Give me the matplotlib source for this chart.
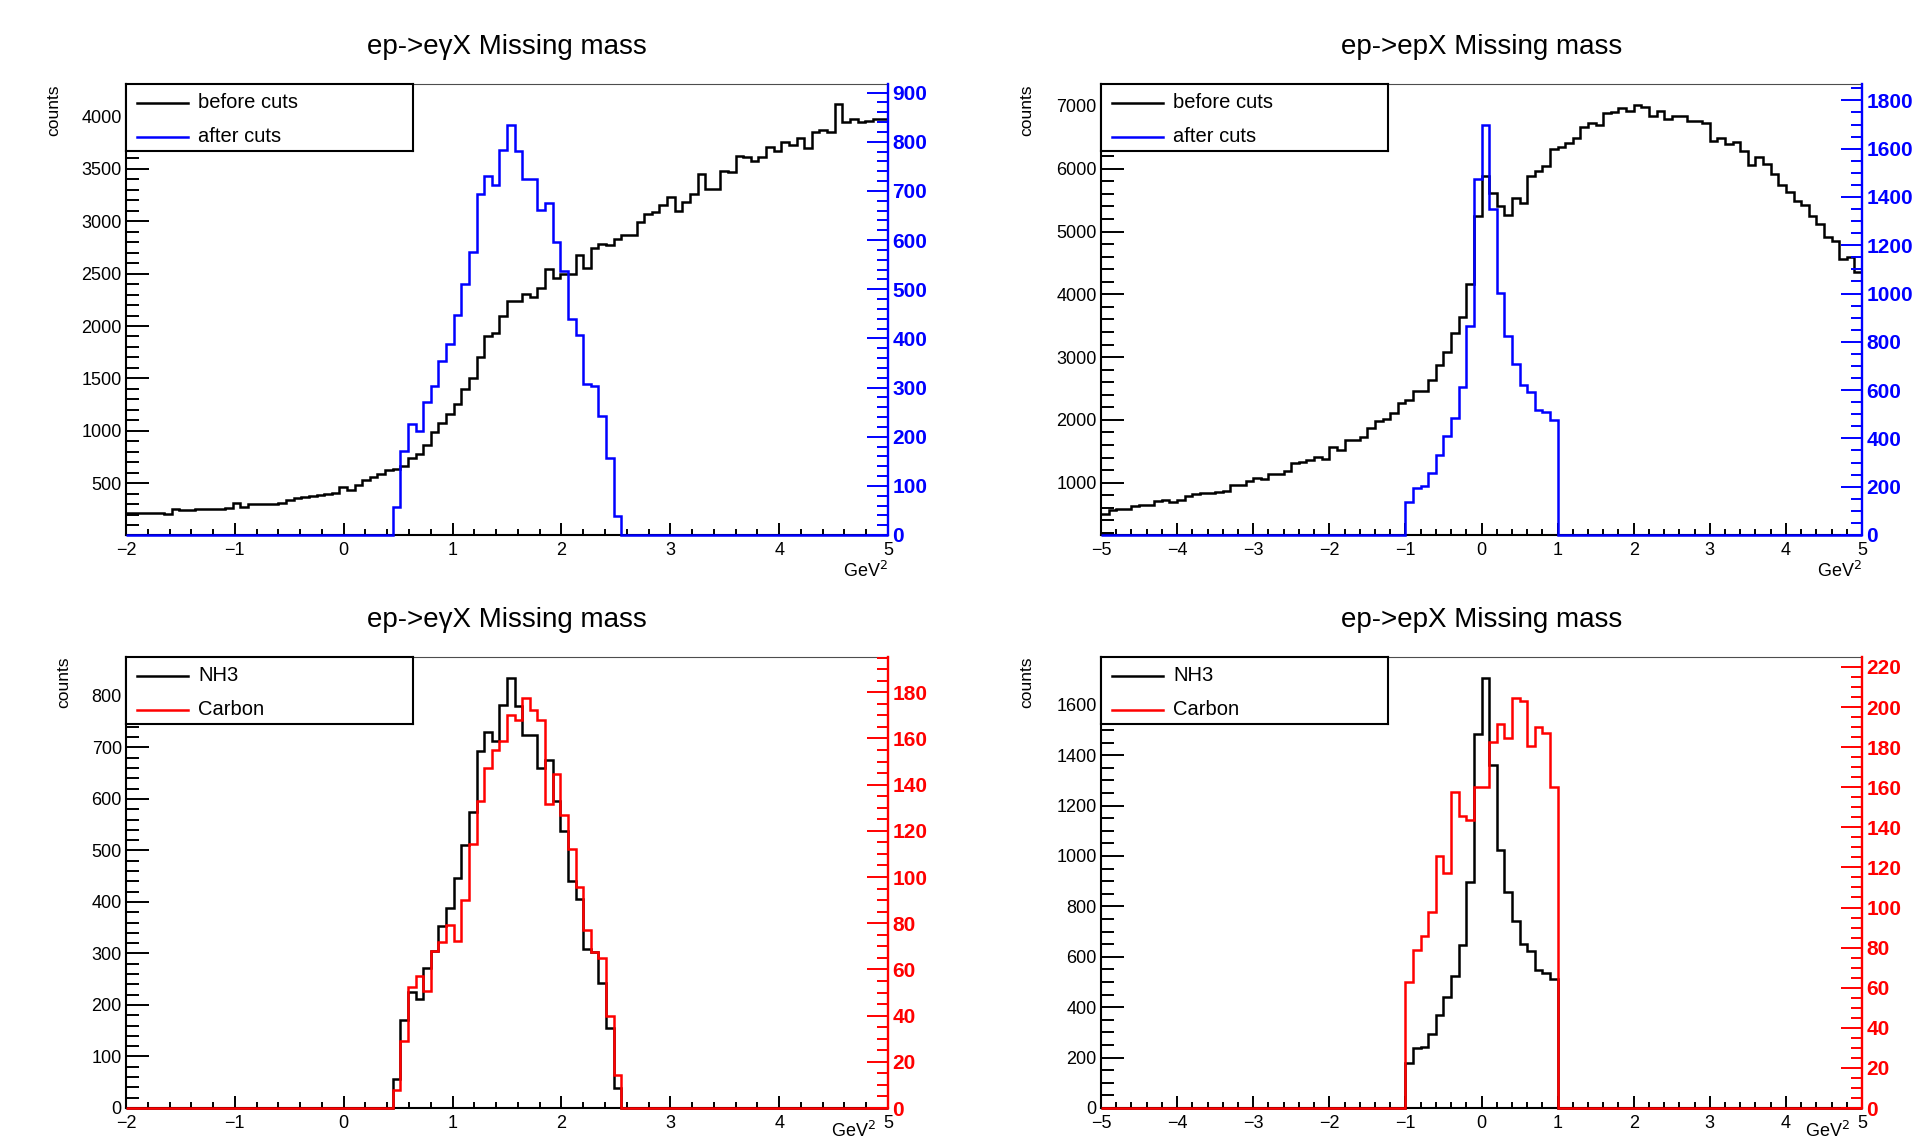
import numpy as np
import matplotlib
matplotlib.use("Agg")
import matplotlib.pyplot as plt
from matplotlib.ticker import MultipleLocator

plt.rcParams["font.family"] = ["Liberation Sans", "DejaVu Sans"]

W, H = 1927, 1142

# ep -> e gamma X, 100 bins on [-2, 5] GeV^2
egx_edges = np.linspace(-2, 5, 101)
egx_before = [
    217, 217, 211, 211, 211, 201, 249, 243, 243, 258,
    258, 258, 249, 265, 306, 275, 303, 303, 303, 303,
    313, 344, 360, 367, 376, 383, 395, 408, 465, 433,
    478, 535, 561, 583, 624, 637, 662, 742, 774, 869,
    987, 1076, 1156, 1251, 1401, 1506, 1706, 1903, 1935, 2100,
    2237, 2237, 2301, 2275, 2364, 2546, 2460, 2498, 2498, 2673,
    2549, 2746, 2784, 2771, 2832, 2864, 2864, 2991, 3067, 3086,
    3159, 3233, 3096, 3182, 3261, 3446, 3312, 3312, 3477, 3471,
    3627, 3614, 3579, 3614, 3706, 3674, 3754, 3732, 3796, 3700,
    3849, 3875, 3852, 4114, 3945, 3971, 3945, 3961, 3971, 3971,
]
# NH3 after cuts, bins 35..64 (0.45 .. 2.55), zero elsewhere
egx_first_bin = 35
egx_nh3 = [
    56, 171, 226, 212, 271, 304, 354, 389, 447, 511,
    575, 694, 731, 712, 783, 834, 781, 724, 724, 661,
    675, 596, 538, 440, 406, 308, 303, 242, 156, 38,
]
egx_carbon = [
    7.9, 29.1, 52.6, 57.3, 50.5, 67.8, 71.7, 79.1, 72.1, 89.9,
    114.4, 132.7, 147.2, 154.8, 158.7, 170.3, 167.8, 177.5, 172.4, 167.8,
    131.7, 144.6, 127.0, 112.1, 95.7, 76.9, 67.4, 64.9, 40.0, 14.4,
]

# ep -> ep X, 100 bins on [-5, 5] GeV^2
epx_edges = np.linspace(-5, 5, 101)
epx_before = [
    494, 563, 574, 574, 627, 638, 638, 707, 723, 696,
    723, 787, 813, 840, 840, 856, 866, 957, 957, 1026,
    1069, 1053, 1143, 1143, 1186, 1319, 1335, 1356, 1414, 1372,
    1568, 1515, 1680, 1680, 1733, 1866, 1983, 2020, 2116, 2265,
    2318, 2461, 2461, 2632, 2871, 3083, 3392, 3642, 4163, 5252,
    5880, 5614, 5401, 5263, 5534, 5455, 5891, 5970, 6050, 6316,
    6343, 6406, 6486, 6672, 6725, 6699, 6885, 6901, 6965, 6927,
    7023, 6980, 6837, 6927, 6794, 6832, 6837, 6757, 6757, 6725,
    6438, 6486, 6396, 6422, 6289, 6066, 6183, 6077, 5917, 5742,
    5625, 5492, 5423, 5252, 5120, 4907, 4854, 4561, 4598, 4349,
]
# bins 40..59 (-1 .. 1), zero elsewhere
epx_first_bin = 40
epx_after = [
    138, 196, 205, 256, 332, 408, 484, 615, 867, 1476,
    1698, 1349, 1003, 823, 708, 622, 591, 519, 508, 477,
]
epx_nh3 = [
    179, 238, 242, 295, 370, 440, 522, 645, 895, 1485,
    1704, 1362, 1025, 857, 741, 651, 621, 549, 536, 512,
]
epx_carbon = [
    62.7, 78.6, 85.9, 97.7, 125.8, 117.2, 157.4, 145.4, 143.4, 159.9,
    159.9, 182.8, 191.7, 184.5, 204.5, 203.1, 180.7, 189.8, 187.0, 159.9,
]

BLUE = "#0000ff"
RED = "#ff0000"


def pad_bins(vals, first, n=100):
    out = np.zeros(n)
    out[first:first + len(vals)] = vals
    return out


def fbox(x0, y0, x1, y1):
    # pixel box (top-left origin) -> figure fraction rect
    return [x0 / W, 1 - y1 / H, (x1 - x0) / W, (y1 - y0) / H]


def draw_panel(fig, box, title, edges, main_vals, over_vals, over_color,
               labels, left_steps, right_steps, counts_x):
    x0, y0, x1, y1 = box
    ax = fig.add_axes(fbox(*box))
    main_vals = np.asarray(main_vals, float)
    over_vals = np.asarray(over_vals, float)

    ax.stairs(main_vals, edges, baseline=None, color="black", lw=1.8, clip_on=False)
    lo, hi = main_vals.min(), main_vals.max()
    margin = 0.05 * (hi - lo)
    ax.set_xlim(edges[0], edges[-1])
    ax.set_ylim(max(lo - margin, 0), hi + margin)

    ax.xaxis.set_major_locator(MultipleLocator(1))
    ax.xaxis.set_minor_locator(MultipleLocator(0.2))
    ax.yaxis.set_major_locator(MultipleLocator(left_steps[0]))
    ax.yaxis.set_minor_locator(MultipleLocator(left_steps[1]))
    ax.tick_params(axis="x", which="major", direction="in", length=8.6, width=1.4,
                   labelsize=13, pad=5)
    ax.tick_params(axis="x", which="minor", direction="in", length=4.3, width=1.4)
    ax.tick_params(axis="y", which="major", direction="in", length=16.5, width=1.4,
                   labelsize=13, pad=3)
    ax.tick_params(axis="y", which="minor", direction="in", length=9, width=1.4)
    ax.tick_params(top=False, right=False)
    for side in ("left", "bottom"):
        ax.spines[side].set_linewidth(1.5)
    ax.spines["top"].set_linewidth(0.8)
    ax.spines["top"].set_color("0.3")
    ax.spines["right"].set_visible(False)

    ax2 = ax.twinx()
    ax2.stairs(over_vals, edges, baseline=None, color=over_color, lw=1.8, clip_on=False)
    ax2.set_ylim(0, 1.1 * over_vals.max())
    ax2.set_xlim(edges[0], edges[-1])
    ax2.yaxis.set_major_locator(MultipleLocator(right_steps[0]))
    ax2.yaxis.set_minor_locator(MultipleLocator(right_steps[1]))
    ax2.tick_params(axis="y", which="major", direction="in", length=15, width=1.4,
                    colors=over_color, labelsize=15, pad=3)
    ax2.tick_params(axis="y", which="minor", direction="in", length=8, width=1.4,
                    colors=over_color)
    for side in ("left", "top", "bottom"):
        ax2.spines[side].set_visible(False)
    ax2.spines["right"].set_color(over_color)
    ax2.spines["right"].set_linewidth(1.7)
    plt.setp(ax2.get_yticklabels(), fontweight="bold")

    # title, axis titles
    fig.text((x0 + x1) / 2 / W, 1 - (y0 - 37) / H, title, ha="center", va="center",
             fontsize=20)
    fig.text(counts_x / W, 1 - y0 / H, "counts", rotation=90, ha="center", va="top",
             fontsize=12.5)
    if y1 + 50 < H:
        fig.text(x1 / W, 1 - (y1 + 36) / H, "GeV$^2$", ha="right", va="center",
                 fontsize=13)
    else:
        # the axis title sits at the bottom edge of the canvas
        fig.text((x1 - 12) / W, 1 - (H - 1) / H, "GeV$^2$", ha="right", va="bottom",
                 fontsize=13)

    # legend box
    lg = fig.add_axes(fbox(x0, y0, x0 + 287, y0 + 67))
    lg.set_xlim(0, 1)
    lg.set_ylim(0, 1)
    lg.set_xticks([])
    lg.set_yticks([])
    for sp in lg.spines.values():
        sp.set_linewidth(1.5)
    for (lab, col), yy in zip(labels, (0.72, 0.215)):
        lg.plot([0.038, 0.216], [yy, yy], color=col, lw=1.8)
        lg.text(0.251, yy, lab, ha="left", va="center", fontsize=14.5)
    return ax, ax2


fig = plt.figure(figsize=(W / 100, H / 100), dpi=100)

draw_panel(fig, (126, 84, 888, 535), "ep->e\u03b3X Missing mass", egx_edges,
           egx_before, pad_bins(egx_nh3, egx_first_bin), BLUE,
           [("before cuts", "black"), ("after cuts", BLUE)],
           (500, 100), (100, 20), 54)
draw_panel(fig, (1101, 84, 1862, 535), "ep->epX Missing mass", epx_edges,
           epx_before, pad_bins(epx_after, epx_first_bin), BLUE,
           [("before cuts", "black"), ("after cuts", BLUE)],
           (1000, 200), (200, 50), 1027)
draw_panel(fig, (126, 657, 888, 1108), "ep->e\u03b3X Missing mass", egx_edges,
           pad_bins(egx_nh3, egx_first_bin), pad_bins(egx_carbon, egx_first_bin), RED,
           [("NH3", "black"), ("Carbon", RED)],
           (100, 20), (20, 5), 64)
draw_panel(fig, (1101, 657, 1862, 1108), "ep->epX Missing mass", epx_edges,
           pad_bins(epx_nh3, epx_first_bin), pad_bins(epx_carbon, epx_first_bin), RED,
           [("NH3", "black"), ("Carbon", RED)],
           (200, 50), (20, 5), 1027)

fig.savefig("out.png", dpi=100, facecolor="white")
